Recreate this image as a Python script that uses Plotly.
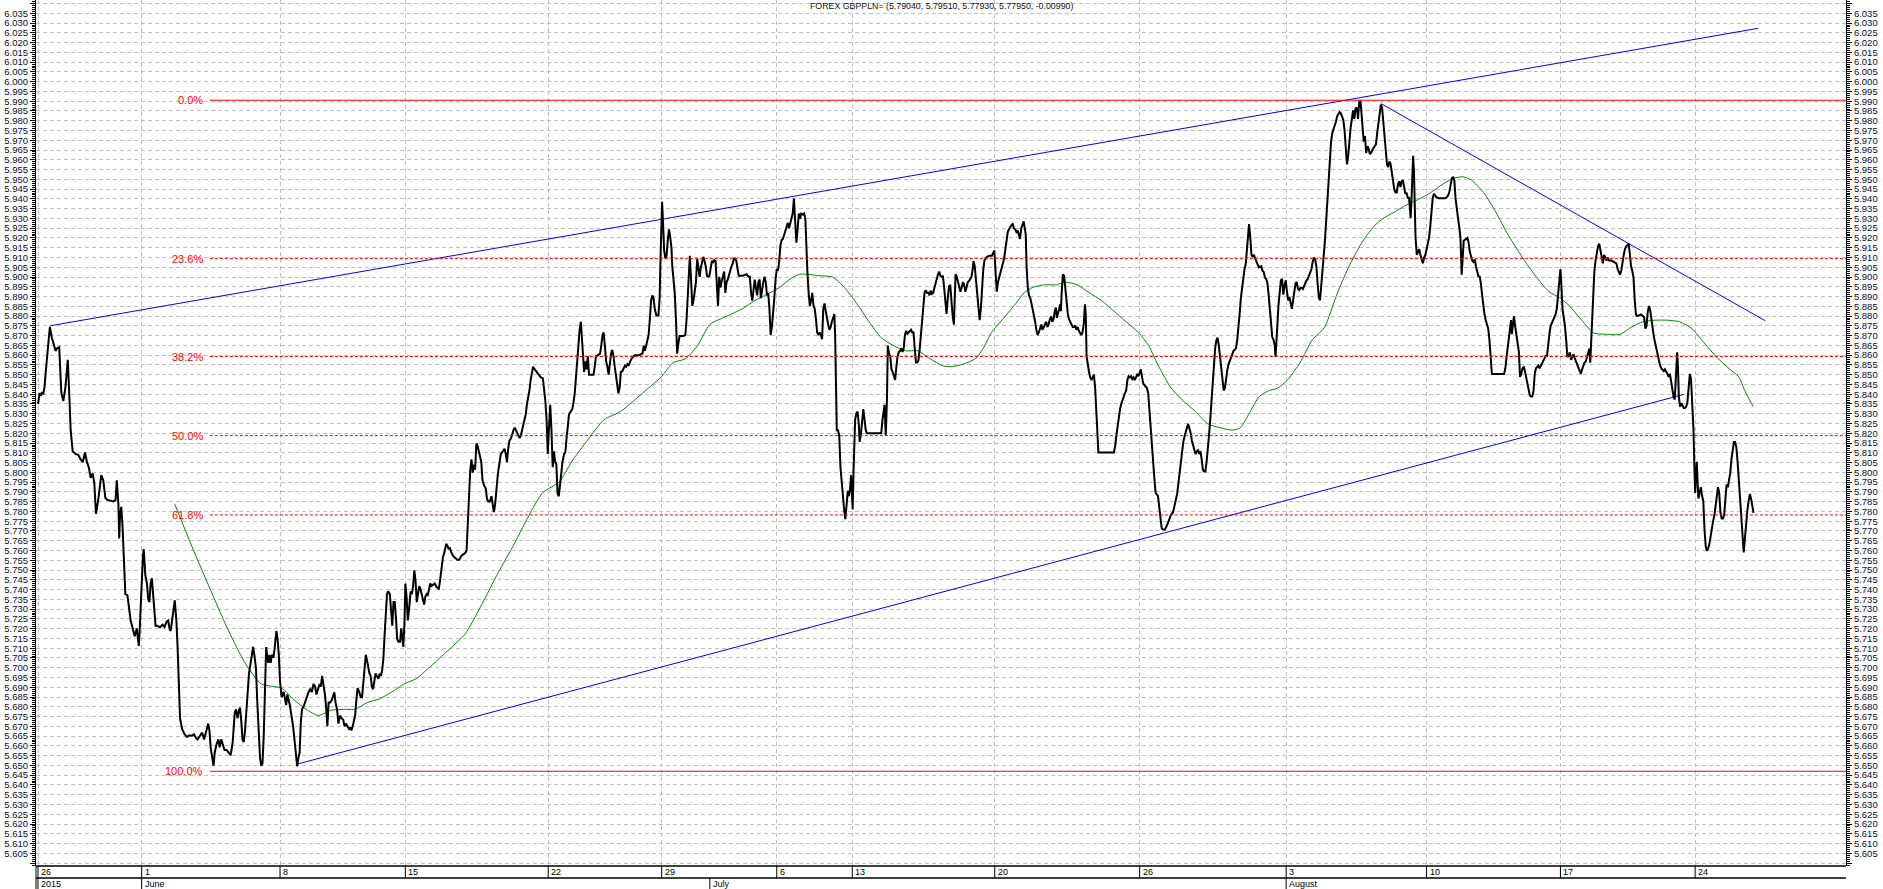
import plotly.graph_objects as go

title_text = "FOREX GBPPLN= (5.79040, 5.79510, 5.77930, 5.77950, -0.00990)"

# time index in chart units (3 units = one hourly bar), price values
close_t = [
    0, 4, 7, 10, 13, 16, 19, 23, 26, 29, 34, 40, 43, 47, 52, 57, 62, 67, 73, 77,
    80, 85, 92, 99, 104, 110, 115, 120, 125, 129, 134, 138, 142, 147, 151, 155, 160, 165, 170, 177,
    185, 190, 193, 197, 199, 201, 204, 207, 210, 214, 219, 224, 227, 232, 237, 242, 247, 249, 253, 257,
    259, 263, 267, 270, 273, 276, 279, 282, 285, 288, 292, 299, 305, 310, 315, 319, 322, 325, 328, 332,
    335, 339, 342, 345, 348, 353, 359, 365, 371, 377, 382, 387, 391, 397, 402, 407, 412, 417, 420, 423,
    427, 430, 433, 437, 442, 445, 449, 453, 457, 462, 467, 472, 477, 482, 485, 489, 492, 495, 498, 501,
    504, 507, 512, 517, 522, 527, 530, 534, 537, 540, 544, 547, 550, 553, 556, 559, 562, 564, 567, 570,
    573, 577, 580, 584, 587, 590, 593, 597, 602, 605, 608, 611, 614, 617, 621, 625, 629, 632, 635, 638,
    641, 644, 647, 651, 655, 659, 663, 667, 671, 675, 679, 682, 686, 690, 693, 696, 699, 703, 706, 709,
    712, 716, 720, 723, 726, 729, 733, 736, 740, 744, 748, 751, 755, 758, 762, 765, 768, 771, 774, 777,
    780, 783, 787, 791, 794, 797, 800, 803, 806, 809, 812, 815, 818, 821, 824, 827, 830, 834, 837, 840,
    843, 846, 849, 852, 855, 858, 862, 865, 868, 871, 874, 877, 880, 883, 887, 890, 893, 895, 898, 900,
    903, 906, 909, 913, 916, 919, 922, 925, 928, 931, 934, 937, 940, 943, 946, 949, 952, 955, 958, 961,
    964, 967, 972, 977, 982, 985, 988, 992, 996, 1000, 1003, 1006, 1009, 1012, 1017, 1022, 1027, 1032, 1037, 1042,
    1047, 1050, 1053, 1056, 1059, 1062, 1065, 1068, 1071, 1074, 1077, 1080, 1083, 1086, 1089, 1093, 1097, 1100, 1103, 1107,
    1111, 1114, 1117, 1120, 1123, 1127, 1131, 1134, 1137, 1140, 1143, 1146, 1149, 1152, 1155, 1159, 1162, 1165, 1168, 1171,
    1174, 1177, 1180, 1183, 1186, 1189, 1192, 1195, 1198, 1201, 1204, 1207, 1210, 1213, 1217, 1222, 1227, 1232, 1237, 1240,
    1243, 1246, 1249, 1251, 1253, 1255, 1258, 1261, 1264, 1267, 1270, 1273, 1276, 1279, 1282, 1285, 1289, 1292, 1295, 1298,
    1301, 1305, 1309, 1312, 1315, 1318, 1321, 1324, 1327, 1330, 1332, 1335, 1338, 1341, 1344, 1347, 1350, 1357, 1361, 1364,
    1367, 1372, 1377, 1380, 1383, 1386, 1389, 1392, 1395, 1398, 1401, 1404, 1407, 1410, 1413, 1416, 1419, 1422, 1425, 1428,
    1432, 1435, 1438, 1441, 1444, 1447, 1450, 1453, 1457, 1462, 1467, 1472, 1481, 1484, 1487, 1490, 1493, 1496, 1499, 1502,
    1505, 1508, 1511, 1515, 1520, 1523, 1525, 1527, 1529, 1531, 1534, 1537, 1540, 1543, 1546, 1549, 1552, 1554, 1557, 1560,
    1563, 1566, 1569, 1572, 1581, 1586, 1589, 1592, 1595, 1597, 1600, 1603, 1606, 1609, 1612, 1615, 1618, 1621, 1624, 1627,
    1630, 1633, 1636, 1639, 1642, 1645, 1648, 1651, 1654, 1657, 1660, 1663, 1666, 1669, 1672, 1675, 1678, 1681, 1684, 1687,
    1690, 1693, 1696, 1699, 1702, 1705, 1708, 1711, 1714, 1717, 1726, 1736, 1741, 1744, 1747, 1750, 1753, 1756, 1759, 1762,
    1765, 1768, 1771, 1774, 1777, 1780, 1783, 1786, 1789, 1792, 1795, 1798, 1801, 1804, 1807, 1810, 1813, 1816, 1819, 1822,
    1825, 1828, 1831, 1834, 1837, 1840, 1843, 1846, 1849, 1852, 1855, 1858, 1861, 1864, 1867, 1870, 1874, 1877, 1880, 1882,
    1885, 1888, 1891, 1894, 1897, 1900, 1903, 1906, 1909, 1912, 1915, 1918, 1921, 1924, 1927, 1930, 1933, 1936, 1939, 1942,
    1945, 1948, 1951, 1953, 1955, 1957, 1960, 1963, 1966, 1969, 1972, 1975, 1978, 1981, 1984, 1987, 1990, 1992, 1994, 1996,
    1998, 2000, 2002, 2005, 2008, 2011, 2013, 2016, 2019, 2022, 2025, 2028, 2031, 2066, 2069, 2072, 2074, 2077, 2080, 2082,
    2085, 2088, 2091, 2094, 2097, 2100, 2103, 2106, 2109, 2112, 2115, 2118, 2121, 2124, 2127, 2130, 2133, 2136, 2139, 2142,
    2145, 2148, 2151, 2154, 2157, 2160, 2163, 2166, 2169, 2172, 2175, 2178, 2181, 2184, 2187, 2190, 2193, 2196, 2199, 2202,
    2205, 2208, 2211, 2214, 2217, 2220, 2223, 2226, 2229, 2232, 2235, 2238, 2241, 2244, 2246, 2248, 2251, 2254, 2257, 2260,
    2263, 2266, 2269, 2272, 2275, 2278, 2281, 2284, 2287, 2290, 2292, 2295, 2298, 2301, 2304, 2307, 2310, 2313, 2316, 2319,
    2322, 2325, 2331, 2337, 2340, 2343, 2346, 2349, 2352, 2355, 2358, 2361, 2364, 2367, 2370, 2373, 2376, 2379, 2382, 2385,
    2388, 2391, 2394, 2397, 2400, 2403, 2406, 2409, 2412, 2415, 2417, 2420, 2422, 2425, 2428, 2431, 2434, 2437, 2440, 2443,
    2446, 2449, 2452, 2455, 2458, 2461, 2464, 2467, 2470, 2473, 2476, 2479, 2482, 2485, 2488, 2491, 2494, 2496, 2499, 2502,
    2504, 2506, 2508, 2511, 2514, 2517, 2520, 2523, 2526, 2529, 2532, 2535, 2538, 2541, 2544, 2547, 2550, 2553, 2556, 2559,
    2562, 2565, 2567, 2569, 2572, 2575, 2578, 2581, 2584, 2587, 2590, 2593, 2596, 2598, 2636, 2639, 2642, 2645, 2648, 2651,
    2654, 2657, 2660, 2663, 2666, 2669, 2672, 2675, 2678, 2681, 2684, 2687, 2690, 2693, 2696, 2699, 2702, 2705, 2708, 2711,
    2714, 2717, 2720, 2723, 2726, 2729, 2732, 2735, 2738, 2741, 2744, 2747, 2750, 2753, 2756, 2761, 2766, 2771, 2776, 2781,
    2786, 2791, 2794, 2797, 2800, 2803, 2806, 2809, 2812, 2815, 2818, 2821, 2824, 2827, 2830, 2833, 2836, 2839, 2842, 2845,
    2848, 2851, 2854, 2857, 2860, 2863, 2866, 2869, 2872, 2875, 2878, 2881, 2884, 2887, 2890, 2893, 2896, 2899, 2902, 2905,
    2908, 2911, 2914, 2917, 2920, 2923, 2926, 2929, 2932, 2935, 2938, 2941, 2944, 2947, 2950, 2953, 2956, 2959, 2962, 2965,
    2967, 2970, 2973, 2976, 2979, 2982, 2985, 2988, 2991, 2997, 3000, 3003, 3006, 3009, 3012, 3015, 3018, 3021, 3024, 3027,
    3030, 3032, 3034, 3036, 3039, 3042, 3045, 3048, 3051, 3054, 3057, 3060, 3063, 3066, 3069, 3072, 3075, 3078, 3081, 3084,
    3087, 3090, 3093, 3096, 3099, 3102, 3105, 3108, 3111, 3114, 3117, 3120, 3123, 3126, 3129, 3132, 3135, 3138, 3141, 3144,
    3147, 3150, 3153, 3156, 3159, 3162, 3165, 3168, 3171, 3174, 3177, 3180, 3183, 3186, 3189, 3192, 3195, 3198, 3201, 3204,
    3207, 3210, 3213, 3216, 3219, 3222, 3225, 3228, 3231, 3234, 3237, 3240, 3242, 3245, 3248, 3251, 3254, 3257, 3260, 3263,
    3266, 3269, 3272, 3275, 3278, 3281, 3284, 3287, 3290, 3293, 3296, 3299, 3302, 3305, 3308, 3311, 3314, 3317, 3320, 3323,
    3326, 3329, 3332, 3335, 3338, 3341, 3344, 3347, 3350, 3353, 3356, 3359, 3361, 3363, 3365, 3367, 3369, 3371, 3373, 3375,
    3378, 3381, 3384, 3387, 3390, 3393, 3396, 3399, 3402, 3405, 3408, 3411, 3414, 3417, 3420, 3423, 3426, 3432, 3447, 3452,
    3455, 3458, 3461, 3464, 3467, 3470, 3473, 3476, 3479, 3482, 3485, 3488, 3490, 3493, 3502, 3505, 3508, 3511, 3514, 3517,
    3520, 3523, 3526, 3529, 3532, 3535, 3538, 3541, 3544, 3547, 3550, 3553, 3556, 3559, 3562, 3592, 3595, 3598, 3601, 3604,
    3607, 3609, 3611, 3613, 3616, 3619, 3622, 3625, 3628, 3631, 3634, 3637, 3640, 3643, 3646, 3649, 3652, 3655, 3658, 3661,
    3664, 3667, 3670, 3673, 3676, 3679, 3682, 3685, 3688, 3691, 3694, 3697, 3700, 3703, 3706, 3709, 3712, 3715, 3718, 3721,
    3724, 3727, 3730, 3732, 3735, 3738, 3741, 3744, 3747, 3750, 3753, 3756, 3759, 3762, 3765, 3768, 3771, 3774, 3777, 3780,
    3783, 3786, 3789, 3792, 3795, 3798, 3801, 3803, 3805, 3807, 3810, 3813, 3816, 3819, 3822, 3825, 3828, 3831, 3834, 3837,
    3840, 3843, 3846, 3849, 3855, 3861, 3867, 3870, 3873, 3876, 3879, 3882, 3885, 3888, 3891, 3894, 3897, 3900, 3903, 3906,
    3909, 3912, 3915, 3918, 3927, 3932, 3935, 3938, 3941, 3944, 3947, 3950, 3953, 3956, 3959, 3962, 3965, 3968, 3971, 3974,
    3977, 3980, 3983, 3986, 3989, 3992, 3995, 3998, 4001, 4004, 4007, 4010, 4012, 4014, 4016, 4018, 4020, 4023, 4026, 4029,
    4032, 4035, 4038, 4041, 4044, 4047, 4050, 4053, 4056, 4058, 4060, 4062, 4064, 4066, 4068, 4071, 4074, 4077, 4080, 4083,
    4086, 4089, 4092, 4095, 4098, 4101, 4104, 4107, 4110, 4113, 4116, 4119, 4122, 4125, 4128, 4131, 4134, 4137, 4140, 4143,
    4146, 4149, 4152, 4155, 4158, 4161, 4164, 4167, 4170, 4173, 4176, 4179, 4182, 4185, 4188, 4191, 4194, 4197, 4200, 4203,
]
close = [
    5.8351, 5.8405, 5.8392, 5.8411, 5.8400, 5.8438, 5.8514, 5.8622, 5.8703, 5.8744, 5.8689, 5.8635, 5.8622, 5.8635, 5.8641, 5.8411, 5.8365, 5.8432, 5.8576, 5.8378,
    5.8216, 5.8108, 5.8094, 5.8089, 5.8067, 5.8053, 5.8102, 5.8053, 5.8021, 5.7972, 5.7994, 5.7945, 5.7788, 5.7851, 5.7918, 5.7986, 5.7959, 5.7869, 5.7859, 5.7856,
    5.7851, 5.7859, 5.7959, 5.7837, 5.7661, 5.7783, 5.7823, 5.7729, 5.7566, 5.7377, 5.7372, 5.7269, 5.7242, 5.7201, 5.7161, 5.7201, 5.7112, 5.7188, 5.7404, 5.7566,
    5.7607, 5.7472, 5.7431, 5.7350, 5.7336, 5.7431, 5.7458, 5.7350, 5.7296, 5.7215, 5.7215, 5.7207, 5.7220, 5.7209, 5.7236, 5.7242, 5.7201, 5.7188, 5.7247, 5.7296,
    5.7345, 5.7242, 5.7106, 5.6863, 5.6741, 5.6687, 5.6660, 5.6646, 5.6654, 5.6652, 5.6660, 5.6641, 5.6633, 5.6652, 5.6668, 5.6633, 5.6668, 5.6714, 5.6679, 5.6592,
    5.6538, 5.6498, 5.6565, 5.6606, 5.6633, 5.6592, 5.6633, 5.6598, 5.6579, 5.6579, 5.6565, 5.6552, 5.6619, 5.6768, 5.6787, 5.6741, 5.6782, 5.6795, 5.6728, 5.6633,
    5.6619, 5.6673, 5.6822, 5.6971, 5.7039, 5.7106, 5.7066, 5.6998, 5.6836, 5.6673, 5.6538, 5.6498, 5.6511, 5.6646, 5.6917, 5.7106, 5.7052, 5.7025, 5.7066, 5.7025,
    5.7066, 5.7052, 5.7106, 5.7188, 5.7147, 5.7066, 5.6930, 5.6849, 5.6876, 5.6836, 5.6809, 5.6863, 5.6836, 5.6809, 5.6755, 5.6700, 5.6619, 5.6538, 5.6495, 5.6538,
    5.6565, 5.6728, 5.6787, 5.6803, 5.6828, 5.6863, 5.6876, 5.6890, 5.6876, 5.6917, 5.6903, 5.6863, 5.6890, 5.6917, 5.6903, 5.6958, 5.6917, 5.6863, 5.6795, 5.6700,
    5.6822, 5.6822, 5.6836, 5.6863, 5.6874, 5.6822, 5.6782, 5.6714, 5.6755, 5.6741, 5.6733, 5.6700, 5.6714, 5.6700, 5.6687, 5.6695, 5.6679, 5.6700, 5.6728, 5.6755,
    5.6836, 5.6895, 5.6876, 5.6849, 5.6849, 5.6917, 5.7025, 5.7066, 5.7039, 5.6998, 5.6971, 5.6958, 5.6903, 5.6890, 5.6944, 5.6971, 5.6958, 5.6944, 5.6971, 5.6958,
    5.6985, 5.7039, 5.7161, 5.7269, 5.7377, 5.7391, 5.7377, 5.7296, 5.7215, 5.7336, 5.7336, 5.7255, 5.7147, 5.7133, 5.7133, 5.7201, 5.7147, 5.7106, 5.7242, 5.7431,
    5.7363, 5.7242, 5.7296, 5.7391, 5.7377, 5.7418, 5.7499, 5.7445, 5.7336, 5.7391, 5.7418, 5.7404, 5.7377, 5.7336, 5.7323, 5.7363, 5.7377, 5.7372, 5.7404, 5.7431,
    5.7418, 5.7423, 5.7431, 5.7412, 5.7404, 5.7445, 5.7499, 5.7566, 5.7593, 5.7634, 5.7626, 5.7607, 5.7615, 5.7593, 5.7572, 5.7561, 5.7553, 5.7553, 5.7572, 5.7580,
    5.7588, 5.7599, 5.7756, 5.7945, 5.8013, 5.8067, 5.7999, 5.8040, 5.8013, 5.8148, 5.8135, 5.8108, 5.8081, 5.8053, 5.7959, 5.7932, 5.7918, 5.7864, 5.7851, 5.7851,
    5.7878, 5.7837, 5.7796, 5.7837, 5.7918, 5.7999, 5.8053, 5.8094, 5.8102, 5.8113, 5.8121, 5.8094, 5.8053, 5.8121, 5.8162, 5.8175, 5.8202, 5.8216, 5.8229, 5.8216,
    5.8202, 5.8183, 5.8175, 5.8189, 5.8216, 5.8243, 5.8270, 5.8297, 5.8351, 5.8378, 5.8419, 5.8473, 5.8514, 5.8541, 5.8527, 5.8514, 5.8500, 5.8486, 5.8481, 5.8432,
    5.8365, 5.8270, 5.8094, 5.8189, 5.8270, 5.8346, 5.8216, 5.8026, 5.8108, 5.8053, 5.8040, 5.7891, 5.7878, 5.7945, 5.8013, 5.8053, 5.8094, 5.8102, 5.8175, 5.8243,
    5.8297, 5.8311, 5.8324, 5.8357, 5.8405, 5.8486, 5.8581, 5.8649, 5.8730, 5.8771, 5.8703, 5.8568, 5.8514, 5.8568, 5.8527, 5.8595, 5.8500, 5.8500, 5.8500, 5.8541,
    5.8595, 5.8600, 5.8608, 5.8649, 5.8703, 5.8716, 5.8635, 5.8568, 5.8541, 5.8500, 5.8554, 5.8608, 5.8627, 5.8595, 5.8541, 5.8486, 5.8432, 5.8405, 5.8432, 5.8514,
    5.8519, 5.8535, 5.8546, 5.8541, 5.8554, 5.8546, 5.8568, 5.8578, 5.8589, 5.8600, 5.8600, 5.8600, 5.8608, 5.8649, 5.8622, 5.8649, 5.8676, 5.8703, 5.8784, 5.8879,
    5.8906, 5.8892, 5.8838, 5.8803, 5.8803, 5.8892, 5.9082, 5.9244, 5.9385, 5.9298, 5.9136, 5.9095, 5.9109, 5.9190, 5.9244, 5.9204, 5.9149, 5.9055, 5.8974, 5.8919,
    5.8784, 5.8608, 5.8662, 5.8698, 5.8698, 5.8703, 5.8784, 5.8892, 5.9028, 5.9109, 5.8987, 5.8852, 5.8879, 5.8919, 5.8974, 5.9095, 5.9041, 5.9001, 5.9049, 5.9087,
    5.9103, 5.9082, 5.9055, 5.9006, 5.9001, 5.9006, 5.9041, 5.9082, 5.9076, 5.9087, 5.9082, 5.8974, 5.8852, 5.9001, 5.8946, 5.8979, 5.9014, 5.9028, 5.8919, 5.8974,
    5.8987, 5.9014, 5.9033, 5.9055, 5.9068, 5.9095, 5.9095, 5.9082, 5.9041, 5.9006, 5.9006, 5.9014, 5.9001, 5.9001, 5.8919, 5.8879, 5.8933, 5.8987, 5.8946, 5.8906,
    5.8974, 5.8987, 5.8892, 5.8946, 5.8974, 5.9001, 5.8974, 5.8906, 5.8919, 5.8838, 5.8703, 5.8744, 5.8811, 5.8892, 5.8987, 5.9041, 5.9033, 5.9082, 5.9163, 5.9190,
    5.9195, 5.9217, 5.9231, 5.9250, 5.9277, 5.9250, 5.9271, 5.9298, 5.9325, 5.9401, 5.9298, 5.9176, 5.9244, 5.9325, 5.9298, 5.9325, 5.9320, 5.9325, 5.9298, 5.9136,
    5.9028, 5.8919, 5.8852, 5.8879, 5.8919, 5.8852, 5.8838, 5.8784, 5.8716, 5.8703, 5.8716, 5.8703, 5.8681, 5.8838, 5.8865, 5.8825, 5.8784, 5.8757, 5.8730, 5.8744,
    5.8771, 5.8790, 5.8811, 5.8703, 5.8486, 5.8216, 5.8216, 5.8189, 5.8026, 5.7945, 5.7891, 5.7810, 5.7761, 5.7837, 5.7905, 5.7878, 5.7924, 5.7986, 5.7837, 5.7810,
    5.7999, 5.8135, 5.8270, 5.8302, 5.8311, 5.8243, 5.8156, 5.8194, 5.8283, 5.8324, 5.8270, 5.8216, 5.8200, 5.8200, 5.8270, 5.8324, 5.8346, 5.8189, 5.8378, 5.8649,
    5.8608, 5.8595, 5.8527, 5.8514, 5.8486, 5.8473, 5.8541, 5.8595, 5.8616, 5.8622, 5.8635, 5.8616, 5.8635, 5.8703, 5.8725, 5.8708, 5.8716, 5.8722, 5.8730, 5.8716,
    5.8716, 5.8635, 5.8562, 5.8562, 5.8573, 5.8627, 5.8703, 5.8779, 5.8865, 5.8919, 5.8933, 5.8919, 5.8919, 5.8906, 5.8930, 5.8914, 5.8919, 5.8946, 5.8974, 5.9001,
    5.9014, 5.9028, 5.9006, 5.9001, 5.9006, 5.8946, 5.8865, 5.8811, 5.8892, 5.8952, 5.8960, 5.8865, 5.8798, 5.8757, 5.8865, 5.9014, 5.9001, 5.8974, 5.8946, 5.8925,
    5.8946, 5.8974, 5.8960, 5.8925, 5.8946, 5.8974, 5.8979, 5.8995, 5.9001, 5.9041, 5.9082, 5.9055, 5.8974, 5.8892, 5.8817, 5.8779, 5.8838, 5.8946, 5.9041, 5.9087,
    5.9095, 5.9103, 5.9109, 5.9109, 5.9122, 5.9136, 5.9028, 5.8925, 5.8974, 5.9001, 5.9028, 5.9049, 5.9068, 5.9095, 5.9141, 5.9190, 5.9231, 5.9244, 5.9258, 5.9266,
    5.9271, 5.9250, 5.9244, 5.9231, 5.9239, 5.9217, 5.9195, 5.9250, 5.9271, 5.9285, 5.9258, 5.9217, 5.9055, 5.8946, 5.8906, 5.8892, 5.8865, 5.8838, 5.8811, 5.8771,
    5.8730, 5.8703, 5.8716, 5.8744, 5.8757, 5.8730, 5.8744, 5.8757, 5.8771, 5.8744, 5.8757, 5.8784, 5.8798, 5.8771, 5.8784, 5.8825, 5.8844, 5.8790, 5.8811, 5.8838,
    5.8860, 5.8825, 5.8919, 5.9014, 5.9006, 5.8946, 5.8865, 5.8811, 5.8784, 5.8771, 5.8757, 5.8744, 5.8744, 5.8752, 5.8730, 5.8744, 5.8725, 5.8716, 5.8703, 5.8716,
    5.8757, 5.8860, 5.8811, 5.8595, 5.8541, 5.8514, 5.8486, 5.8473, 5.8486, 5.8500, 5.8432, 5.8324, 5.8216, 5.8102, 5.8102, 5.8135, 5.8189, 5.8243, 5.8283, 5.8324,
    5.8351, 5.8373, 5.8392, 5.8405, 5.8419, 5.8473, 5.8492, 5.8486, 5.8492, 5.8478, 5.8486, 5.8473, 5.8486, 5.8500, 5.8492, 5.8514, 5.8527, 5.8486, 5.8454, 5.8446,
    5.8438, 5.8432, 5.8405, 5.8311, 5.8202, 5.8108, 5.8053, 5.7972, 5.7897, 5.7886, 5.7878, 5.7823, 5.7769, 5.7715, 5.7707, 5.7707, 5.7729, 5.7761, 5.7783, 5.7796,
    5.7837, 5.7891, 5.7945, 5.8005, 5.8067, 5.8113, 5.8156, 5.8183, 5.8216, 5.8229, 5.8248, 5.8229, 5.8202, 5.8162, 5.8135, 5.8113, 5.8094, 5.8108, 5.8113, 5.8094,
    5.8108, 5.8067, 5.8013, 5.8005, 5.8005, 5.8053, 5.8108, 5.8189, 5.8270, 5.8378, 5.8459, 5.8541, 5.8635, 5.8676, 5.8689, 5.8649, 5.8595, 5.8541, 5.8473, 5.8419,
    5.8432, 5.8486, 5.8527, 5.8554, 5.8573, 5.8595, 5.8608, 5.8622, 5.8627, 5.8635, 5.8676, 5.8730, 5.8811, 5.8892, 5.8946, 5.9001, 5.9041, 5.9068, 5.9136, 5.9217,
    5.9271, 5.9204, 5.9114, 5.9103, 5.9114, 5.9095, 5.9082, 5.9068, 5.9049, 5.9055, 5.9032, 5.9026, 5.8997, 5.8991, 5.8968, 5.8910, 5.8837, 5.8736, 5.8692, 5.8678,
    5.8649, 5.8591, 5.8649, 5.8736, 5.8852, 5.8910, 5.8983, 5.8991, 5.8910, 5.8954, 5.8983, 5.8925, 5.8881, 5.8896, 5.8867, 5.8837, 5.8881, 5.8939, 5.8968, 5.8974,
    5.8939, 5.8933, 5.8945, 5.8945, 5.8939, 5.8954, 5.8974, 5.8983, 5.8991, 5.9012, 5.9026, 5.9041, 5.9078, 5.9099, 5.9090, 5.9055, 5.8968, 5.8896, 5.8881, 5.8954,
    5.9026, 5.9084, 5.9186, 5.9287, 5.9403, 5.9519, 5.9612, 5.9693, 5.9737, 5.9757, 5.9766, 5.9795, 5.9824, 5.9838, 5.9844, 5.9838, 5.9824, 5.9804, 5.9751, 5.9664,
    5.9577, 5.9621, 5.9708, 5.9766, 5.9809, 5.9853, 5.9809, 5.9862, 5.9867, 5.9809, 5.9896, 5.9902, 5.9853, 5.9766, 5.9693, 5.9722, 5.9635, 5.9670, 5.9658, 5.9629,
    5.9635, 5.9650, 5.9658, 5.9670, 5.9679, 5.9737, 5.9795, 5.9853, 5.9882, 5.9867, 5.9795, 5.9708, 5.9635, 5.9577, 5.9563, 5.9592, 5.9577, 5.9534, 5.9496, 5.9447,
    5.9432, 5.9432, 5.9476, 5.9490, 5.9461, 5.9490, 5.9496, 5.9461, 5.9426, 5.9432, 5.9403, 5.9409, 5.9360, 5.9302, 5.9389, 5.9490, 5.9621, 5.9548, 5.9316, 5.9200,
    5.9113, 5.9128, 5.9142, 5.9113, 5.9084, 5.9070, 5.9099, 5.9113, 5.9142, 5.9171, 5.9200, 5.9258, 5.9331, 5.9403, 5.9426, 5.9418, 5.9409, 5.9403, 5.9403, 5.9409,
    5.9418, 5.9438, 5.9476, 5.9505, 5.9513, 5.9496, 5.9403, 5.9331, 5.9302, 5.9258, 5.9200, 5.9012, 5.9099, 5.9186, 5.9200, 5.9177, 5.9128, 5.9099, 5.9084, 5.9078,
    5.9090, 5.9055, 5.9020, 5.9003, 5.9003, 5.8968, 5.8910, 5.8852, 5.8808, 5.8779, 5.8759, 5.8736, 5.8678, 5.8591, 5.8504, 5.8504, 5.8533, 5.8591, 5.8649, 5.8707,
    5.8750, 5.8779, 5.8707, 5.8765, 5.8800, 5.8750, 5.8707, 5.8678, 5.8620, 5.8489, 5.8504, 5.8533, 5.8539, 5.8518, 5.8489, 5.8446, 5.8417, 5.8394, 5.8388, 5.8388,
    5.8417, 5.8504, 5.8533, 5.8539, 5.8547, 5.8533, 5.8547, 5.8562, 5.8576, 5.8591, 5.8597, 5.8597, 5.8663, 5.8707, 5.8750, 5.8765, 5.8779, 5.8788, 5.8808, 5.8837,
    5.8910, 5.8954, 5.9041, 5.8968, 5.8837, 5.8794, 5.8750, 5.8678, 5.8591, 5.8597, 5.8614, 5.8576, 5.8597, 5.8605, 5.8585, 5.8568, 5.8556, 5.8539, 5.8518, 5.8504,
    5.8527, 5.8547, 5.8562, 5.8568, 5.8591, 5.8605, 5.8634, 5.8562, 5.8649, 5.8736, 5.8910, 5.9026, 5.9084, 5.9128, 5.9157, 5.9171, 5.9142, 5.9099, 5.9070, 5.9113,
    5.9099, 5.9084, 5.9099, 5.9084, 5.9084, 5.9078, 5.9070, 5.9041, 5.9026, 5.9012, 5.9032, 5.9084, 5.9113, 5.9142, 5.9157, 5.9162, 5.9171, 5.9119, 5.9055, 5.9032,
    5.8997, 5.8881, 5.8808, 5.8800, 5.8808, 5.8800, 5.8794, 5.8736, 5.8750, 5.8823, 5.8852, 5.8829, 5.8779, 5.8721, 5.8692, 5.8663, 5.8634, 5.8591, 5.8562, 5.8547,
    5.8533, 5.8527, 5.8518, 5.8527, 5.8518, 5.8504, 5.8489, 5.8504, 5.8469, 5.8417, 5.8388, 5.8373, 5.8446, 5.8562, 5.8614, 5.8533, 5.8388, 5.8336, 5.8353, 5.8344,
    5.8330, 5.8330, 5.8336, 5.8359, 5.8446, 5.8504, 5.8475, 5.8373, 5.8214, 5.8040, 5.7895, 5.7982, 5.8054, 5.7953, 5.7866, 5.7895, 5.7924, 5.7880, 5.7851, 5.7706,
    5.7619, 5.7599, 5.7611, 5.7634, 5.7677, 5.7721, 5.7750, 5.7779, 5.7822, 5.7866, 5.7924, 5.7895, 5.7793, 5.7764, 5.7764, 5.7779, 5.7851, 5.7938, 5.7924, 5.7953,
    5.7996, 5.8069, 5.8127, 5.8156, 5.8156, 5.8127, 5.8054, 5.7953, 5.7851, 5.7779, 5.7663, 5.7590, 5.7663, 5.7750, 5.7808, 5.7851, 5.7889, 5.7866, 5.7822, 5.7793,
]

# moving average (green)
ma_t = [
    335, 377, 427, 467, 507, 547, 597, 627, 657, 687, 717, 757, 777, 807, 837, 867, 897, 927, 957, 1007,
    1047, 1087, 1127, 1167, 1207, 1237, 1277, 1307, 1347, 1387, 1427, 1466, 1496, 1526, 1556, 1586, 1616, 1646, 1686, 1726,
    1756, 1786, 1816, 1846, 1866, 1886, 1916, 1946, 1976, 2006, 2036, 2066, 2096, 2126, 2156, 2186, 2216, 2236, 2266, 2296,
    2316, 2336, 2366, 2396, 2416, 2436, 2466, 2496, 2516, 2546, 2576, 2606, 2636, 2666, 2696, 2721, 2746, 2776, 2806, 2836,
    2866, 2896, 2926, 2946, 2966, 2992, 3014, 3037, 3062, 3092, 3122, 3152, 3182, 3212, 3242, 3272, 3297, 3322, 3352, 3382,
    3412, 3442, 3467, 3492, 3512, 3542, 3572, 3602, 3642, 3672, 3702, 3727, 3752, 3782, 3812, 3842, 3877, 3902, 3932, 3962,
    3992, 4022, 4052, 4082, 4112, 4142, 4167, 4182, 4202,
]
ma = [
    5.7837, 5.7621, 5.7377, 5.7188, 5.7025, 5.6917, 5.6895, 5.6836, 5.6787, 5.6755, 5.6782, 5.6787, 5.6787, 5.6822, 5.6841, 5.6876, 5.6917, 5.6944, 5.6998, 5.7093,
    5.7174, 5.7323, 5.7485, 5.7634, 5.7796, 5.7897, 5.7951, 5.8053, 5.8167, 5.8270, 5.8311, 5.8378, 5.8432, 5.8486, 5.8562, 5.8581, 5.8649, 5.8757, 5.8798, 5.8838,
    5.8879, 5.8911, 5.8946, 5.8995, 5.9014, 5.9014, 5.9006, 5.9001, 5.8946, 5.8865, 5.8771, 5.8689, 5.8649, 5.8622, 5.8622, 5.8581, 5.8546, 5.8541, 5.8554, 5.8581,
    5.8635, 5.8716, 5.8790, 5.8865, 5.8919, 5.8946, 5.8960, 5.8960, 5.8974, 5.8960, 5.8919, 5.8879, 5.8825, 5.8771, 5.8716, 5.8649, 5.8541, 5.8432, 5.8365, 5.8311,
    5.8248, 5.8229, 5.8216, 5.8229, 5.8297, 5.8388, 5.8417, 5.8431, 5.8475, 5.8562, 5.8678, 5.8742, 5.8910, 5.9055, 5.9171, 5.9258, 5.9302, 5.9331, 5.9368, 5.9397,
    5.9432, 5.9476, 5.9505, 5.9513, 5.9496, 5.9432, 5.9331, 5.9215, 5.9084, 5.8997, 5.8925, 5.8896, 5.8852, 5.8779, 5.8713, 5.8707, 5.8707, 5.8742, 5.8771, 5.8779,
    5.8779, 5.8771, 5.8736, 5.8663, 5.8591, 5.8533, 5.8489, 5.8417, 5.8336,
]

# blue trend lines (start / end)
upper_t = [29, 4214]
upper_p = [5.8750, 6.0273]
lower_t = [634, 4032]
lower_p = [5.6506, 5.8399]
down_t = [3290, 4232]
down_p = [5.9888, 5.8776]

# Fibonacci retracement levels
fib_labels = ["0.0%", "23.6%", "38.2%", "50.0%", "61.8%", "100.0%"]
fib_prices = [5.9905, 5.9094, 5.8593, 5.8188, 5.7782, 5.6470]
fib_solid = [True, False, False, False, False, True]
fib_start_t = 421

# time axis labels
week_t = [0, 254, 593, 900, 1250, 1528, 1810, 1995, 2344, 2699, 3058, 3402, 3730, 4060]
week_labels = ["26", "1", "8", "15", "22", "29", "6", "13", "20", "26", "3", "10", "17", "24"]
month_t = [0, 254, 1646, 3058]
month_labels = ["2015", "June", "July", "August"]

# price axis
ytick_vals = [5.600, 5.605, 5.610, 5.615, 5.620, 5.625, 5.630, 5.635, 5.640, 5.645, 5.650, 5.655, 5.660,
              5.665, 5.670, 5.675, 5.680, 5.685, 5.690, 5.695, 5.700, 5.705, 5.710, 5.715, 5.720, 5.725,
              5.730, 5.735, 5.740, 5.745, 5.750, 5.755, 5.760, 5.765, 5.770, 5.775, 5.780, 5.785, 5.790,
              5.795, 5.800, 5.805, 5.810, 5.815, 5.820, 5.825, 5.830, 5.835, 5.840, 5.845, 5.850, 5.855,
              5.860, 5.865, 5.870, 5.875, 5.880, 5.885, 5.890, 5.895, 5.900, 5.905, 5.910, 5.915, 5.920,
              5.925, 5.930, 5.935, 5.940, 5.945, 5.950, 5.955, 5.960, 5.965, 5.970, 5.975, 5.980, 5.985,
              5.990, 5.995, 6.000, 6.005, 6.010, 6.015, 6.020, 6.025, 6.030, 6.035, 6.040]
ytick_text = ["" if v in (5.600, 6.040) else f"{v:.3f}" for v in ytick_vals]

x_range = [-4.9, 4429.6]
y_range = [5.5985, 6.0418]

W, H = 1883, 889
M_L, M_R, M_T, M_B = 36, 37, 0, 23
plot_h = H - M_T - M_B
row1 = -12 / plot_h
row2 = -23 / plot_h

FONT = "Liberation Sans, Arial, sans-serif"
axis_font = dict(family=FONT, size=9.5, color="#0c0c2a")

fig = go.Figure()

for lab, p, solid in zip(fib_labels, fib_prices, fib_solid):
    fig.add_trace(go.Scatter(
        x=[fib_start_t, x_range[1]], y=[p, p], mode="lines", yaxis="y2",
        line=dict(color="#ff0000", width=1, dash="solid" if solid else "3px,2px"),
        hoverinfo="skip"))

for tt, pp in ((upper_t, upper_p), (lower_t, lower_p), (down_t, down_p)):
    fig.add_trace(go.Scatter(x=tt, y=pp, mode="lines",
                             line=dict(color="#0000ff", width=1), hoverinfo="skip"))

fig.add_trace(go.Scatter(x=ma_t, y=ma, mode="lines",
                         line=dict(color="#008a00", width=1, shape="spline", smoothing=0.6),
                         hoverinfo="skip"))
fig.add_trace(go.Scatter(x=close_t, y=close, mode="lines",
                         line=dict(color="#000000", width=2), hoverinfo="skip"))

common_y = dict(range=y_range, tickmode="array", tickvals=ytick_vals, ticktext=ytick_text,
                ticks="outside", ticklen=5, tickwidth=1, tickcolor="black",
                showline=True, linecolor="black", linewidth=1,
                minor=dict(dtick=0.001, tick0=5.6, ticks="outside", ticklen=3,
                           tickwidth=1, tickcolor="black", showgrid=False),
                tickfont=axis_font, zeroline=False, fixedrange=True)

fig.update_layout(
    width=W, height=H,
    margin=dict(l=M_L, r=M_R, t=M_T, b=M_B, pad=0),
    paper_bgcolor="white", plot_bgcolor="white",
    showlegend=False, hovermode=False,
    xaxis=dict(range=x_range, tickmode="array", tickvals=week_t, showticklabels=False,
               ticks="", showgrid=True, gridcolor="#c0c0c0", griddash="4px,3px", gridwidth=1,
               zeroline=False, showline=False, fixedrange=True),
    yaxis=dict(**common_y, side="left", showgrid=True, gridcolor="#c0c0c0",
               griddash="4px,3px", gridwidth=1),
    yaxis2=dict(**common_y, side="right", overlaying="y", showgrid=False),
)

shapes = []
for yy in (0, row1):
    shapes.append(dict(type="line", xref="paper", yref="paper", x0=0, x1=1, y0=yy, y1=yy,
                       line=dict(color="black", width=1.5)))
shapes.append(dict(type="line", xref="paper", yref="paper", x0=0, x1=0, y0=0, y1=row2,
                   line=dict(color="black", width=1)))
for wt in week_t:
    shapes.append(dict(type="line", xref="x", yref="paper", x0=wt, x1=wt, y0=0, y1=row1,
                       line=dict(color="black", width=1)))
for mt in month_t:
    shapes.append(dict(type="line", xref="x", yref="paper", x0=mt, x1=mt, y0=row1, y1=row2,
                       line=dict(color="black", width=1)))
fig.update_layout(shapes=shapes)

ann = []
for wt, lab in zip(week_t, week_labels):
    ann.append(dict(x=wt, xref="x", y=row1 / 2, yref="paper", text=lab, showarrow=False,
                    xanchor="left", yanchor="middle", xshift=1,
                    font=dict(family=FONT, size=9, color="black")))
for mt, lab in zip(month_t, month_labels):
    ann.append(dict(x=mt, xref="x", y=(row1 + row2) / 2, yref="paper", text=lab, showarrow=False,
                    xanchor="left", yanchor="middle", xshift=1,
                    font=dict(family=FONT, size=9, color="black")))
for lab, p in zip(fib_labels, fib_prices):
    ann.append(dict(x=fib_start_t, xref="x", y=p, yref="y", text=lab, showarrow=False,
                    xanchor="right", yanchor="middle", xshift=-5,
                    font=dict(family=FONT, size=11, color="#ff0000")))
ann.append(dict(x=0.5, xref="paper", y=1, yref="paper", text=title_text, showarrow=False,
                xanchor="center", yanchor="top", yshift=1,
                font=dict(family=FONT, size=8.8, color="#111111")))
fig.update_layout(annotations=ann)

fig.write_html("out.html", config={"displayModeBar": False})
